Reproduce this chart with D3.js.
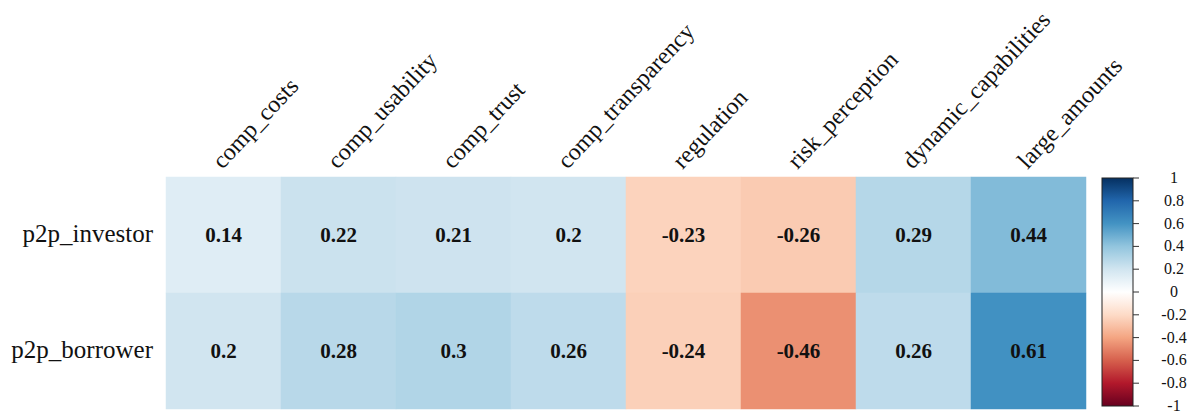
<!DOCTYPE html>
<html>
<head>
<meta charset="utf-8">
<script src="https://cdn.jsdelivr.net/npm/d3@7"></script>
<style>
  html, body { margin: 0; padding: 0; background: #fff; }
  svg { display: block; }
</style>
</head>
<body>
<svg id="chart" width="1193" height="414" font-family="'Liberation Serif', 'DejaVu Serif', serif"></svg>
<script>
const columns = ["comp_costs", "comp_usability", "comp_trust", "comp_transparency",
                 "regulation", "risk_perception", "dynamic_capabilities", "large_amounts"];
const rows = ["p2p_investor", "p2p_borrower"];
const investorValues = [0.14, 0.22, 0.21, 0.2, -0.23, -0.26, 0.29, 0.44];
const borrowerValues = [0.2, 0.28, 0.3, 0.26, -0.24, -0.46, 0.26, 0.61];
const legendTicks = [1, 0.8, 0.6, 0.4, 0.2, 0, -0.2, -0.4, -0.6, -0.8, -1];
const paletteStops = ["#67001F", "#B2182B", "#D6604D", "#F4A582", "#FDDBC7", "#FFFFFF",
                      "#D1E5F0", "#92C5DE", "#4393C3", "#2166AC", "#053061"];

const FONT = "'Liberation Serif', 'DejaVu Serif', serif";
const seriesByRow = [investorValues, borrowerValues];
const cells = [];
rows.forEach((r, i) => columns.forEach((c, j) => cells.push({ row: r, col: c, value: seriesByRow[i][j] })));

const svg = d3.select("#chart");

const grid = { left: 166, right: 1086, top: 177, bottom: 409 };
const x = d3.scaleBand().domain(columns).range([grid.left, grid.right]).padding(0);
const y = d3.scaleBand().domain(rows).range([grid.top, grid.bottom]).padding(0);

const color = d3.scaleLinear()
  .domain(d3.range(paletteStops.length).map(i => -1 + 2 * i / (paletteStops.length - 1)))
  .range(paletteStops)
  .interpolate(d3.interpolateRgb);

// cells
svg.append("g").selectAll("rect").data(cells).join("rect")
  .attr("x", d => x(d.col))
  .attr("y", d => y(d.row))
  .attr("width", x.bandwidth())
  .attr("height", y.bandwidth())
  .attr("fill", d => color(d.value))
  .attr("stroke", d => color(d.value))
  .attr("stroke-width", 0.5);

// cell values
svg.append("g").selectAll("text").data(cells).join("text")
  .attr("x", d => x(d.col) + x.bandwidth() / 2)
  .attr("y", d => y(d.row) + y.bandwidth() / 2 + 7)
  .attr("text-anchor", "middle")
  .attr("font-family", FONT)
  .attr("font-weight", "bold")
  .attr("font-size", 21)
  .attr("fill", "#111")
  .text(d => String(d.value));

// row labels
svg.append("g").selectAll("text").data(rows).join("text")
  .attr("x", grid.left - 13)
  .attr("y", d => y(d) + y.bandwidth() / 2 + 7)
  .attr("text-anchor", "end")
  .attr("font-family", FONT)
  .attr("font-size", 25)
  .attr("fill", "#111")
  .text(d => d);

// column labels (rotated)
svg.append("g").selectAll("text").data(columns).join("text")
  .attr("transform", d => `translate(${x(d) + x.bandwidth() / 2 - 1},${grid.top - 7}) rotate(-47)`)
  .attr("text-anchor", "start")
  .attr("font-family", FONT)
  .attr("font-size", 24)
  .attr("fill", "#111")
  .text(d => d);

// colour legend
const legend = { x: 1102, width: 31, top: 178, bottom: 406 };
const ly = d3.scaleLinear().domain([1, -1]).range([legend.top, legend.bottom]);

const defs = svg.append("defs");
const grad = defs.append("linearGradient")
  .attr("id", "cbar").attr("x1", 0).attr("y1", 1).attr("x2", 0).attr("y2", 0);
paletteStops.forEach((c, i) => {
  grad.append("stop").attr("offset", i / (paletteStops.length - 1)).attr("stop-color", c);
});

svg.append("rect")
  .attr("x", legend.x)
  .attr("y", ly(1))
  .attr("width", legend.width)
  .attr("height", ly(-1) - ly(1))
  .attr("fill", "url(#cbar)")
  .attr("stroke", "#222")
  .attr("stroke-width", 1);

const lg = svg.append("g");
lg.selectAll("line").data(legendTicks).join("line")
  .attr("x1", legend.x + legend.width)
  .attr("x2", legend.x + legend.width + 6)
  .attr("y1", d => ly(d))
  .attr("y2", d => ly(d))
  .attr("stroke", "#333")
  .attr("stroke-width", 1);
lg.selectAll("text").data(legendTicks).join("text")
  .attr("x", 1174)
  .attr("y", d => ly(d) + 5)
  .attr("text-anchor", "middle")
  .attr("font-family", FONT)
  .attr("font-size", 16)
  .attr("fill", "#111")
  .text(d => String(d));
</script>
</body>
</html>
